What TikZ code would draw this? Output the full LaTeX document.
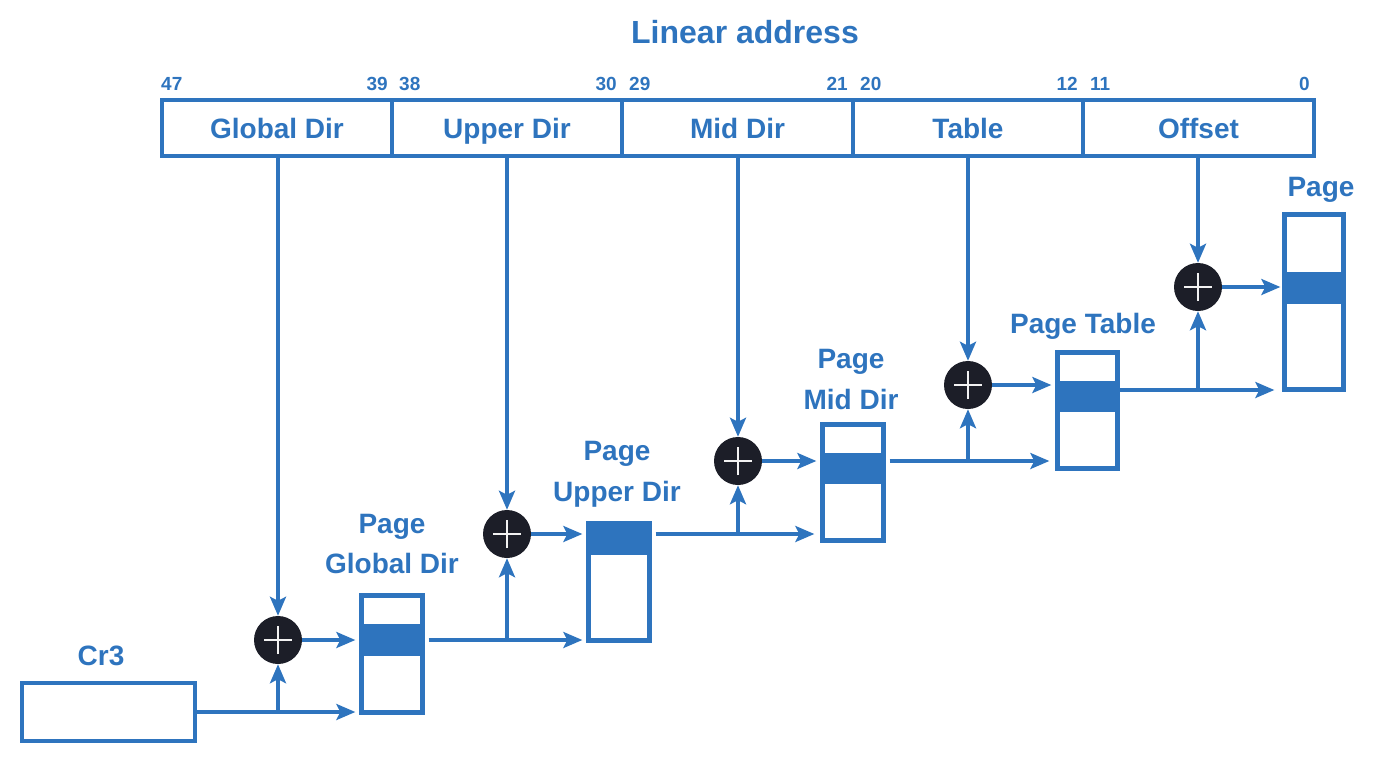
\documentclass[tikz,border=0pt]{standalone}
\usepackage{fontspec}
\setmainfont{Liberation Sans}
\usetikzlibrary{arrows.meta,calc}
\definecolor{ablue}{RGB}{46,116,190}
\definecolor{pdark}{RGB}{28,30,40}
\begin{document}
\begin{tikzpicture}[x=1pt,y=-1pt,
  conn/.style={draw=ablue, line width=3.5pt},
  arr/.style={conn, -{Stealth[length=19pt,width=16pt,inset=4pt]}},
  lbl/.style={text=ablue, font=\fontsize{28}{32}\selectfont\bfseries, inner sep=0pt},
  bitn/.style={text=ablue, font=\fontsize{19}{20}\selectfont\bfseries, inner sep=0pt},
  field/.style={draw=ablue, line width=3.3pt, minimum height=56pt, text=ablue,
    font=\fontsize{28}{32}\selectfont\bfseries, text height=20pt, text depth=0pt, inner sep=0pt},
  tbox/.style={draw=ablue, line width=3.3pt, fill=white, inner sep=0pt, minimum width=60pt},
  band/.style={fill=ablue, inner sep=0pt, minimum width=60pt},
  adder/.style={circle, fill=pdark, minimum size=48pt, inner sep=0pt,
    path picture={\draw[white!90!gray, line width=2.2pt]
      ([xshift=-14pt]path picture bounding box.center) -- ([xshift=14pt]path picture bounding box.center)
      ([yshift=-14pt]path picture bounding box.center) -- ([yshift=14pt]path picture bounding box.center);}}
]
\useasboundingbox (0,0) rectangle (1382,764);

% title
\node[text=ablue, font=\fontsize{32}{36}\selectfont\bfseries, anchor=base, inner sep=0pt] (title) at (745,43) {Linear address};

% linear address fields
\node[field, minimum width=230pt] (fg) at (277,128) {Global Dir};
\node[field, minimum width=230pt] (fu) at (507,128) {Upper Dir};
\node[field, minimum width=231pt] (fm) at (737.5,128) {Mid Dir};
\node[field, minimum width=230pt] (ft) at (968,128) {Table};
\node[field, minimum width=231pt] (fo) at (1198.5,128) {Offset};

% bit numbers
\node[bitn, anchor=base west] (b47) at (161,90) {47};
\node[bitn, anchor=base east] (b39) at (388,90) {39};
\node[bitn, anchor=base west] (b38) at (399,90) {38};
\node[bitn, anchor=base east] (b30) at (617,90) {30};
\node[bitn, anchor=base west] (b29) at (629,90) {29};
\node[bitn, anchor=base east] (b21) at (848,90) {21};
\node[bitn, anchor=base west] (b20) at (860,90) {20};
\node[bitn, anchor=base east] (b12) at (1078,90) {12};
\node[bitn, anchor=base west] (b11) at (1090,90) {11};
\node[bitn, anchor=base east] (b0) at (1310,90) {0};

% Cr3
\node[lbl, anchor=base] (cr3l) at (101,665) {Cr3};
\node[draw=ablue, line width=3.3pt, minimum width=173pt, minimum height=58pt, inner sep=0pt] (cr3) at (108.5,712) {};

% table boxes
\node[tbox, minimum height=116pt] (pgd) at (392,654) {};
\node[band, minimum height=32pt] (pgdb) at (392,640) {};
\node[tbox, minimum height=116pt] (pud) at (619,582) {};
\node[band, minimum height=31pt] (pudb) at (619,539.5) {};
\node[tbox, minimum height=115pt] (pmd) at (853,482.5) {};
\node[band, minimum height=31pt] (pmdb) at (853,468.5) {};
\node[tbox, minimum height=115pt, minimum width=59pt] (pt) at (1087.5,410.5) {};
\node[band, minimum height=31pt, minimum width=59pt] (ptb) at (1087.5,396.5) {};
\node[tbox, minimum height=174pt, minimum width=58pt] (pg) at (1314,302) {};
\node[band, minimum height=32pt, minimum width=58pt] (pgb) at (1314,288) {};
% redraw outlines over bands
\foreach \b in {pgd,pud,pmd,pt,pg}{\draw[ablue, line width=3.3pt] (\b.south west) rectangle (\b.north east);}

% box labels
\node[lbl, anchor=base] (l1a) at (392,533) {Page};
\node[lbl, anchor=base] (l1b) at (392,573) {Global Dir};
\node[lbl, anchor=base] (l2a) at (617,460) {Page};
\node[lbl, anchor=base] (l2b) at (617,501) {Upper Dir};
\node[lbl, anchor=base] (l3a) at (851,368) {Page};
\node[lbl, anchor=base] (l3b) at (851,409) {Mid Dir};
\node[lbl, anchor=base] (l4) at (1083,333) {Page Table};
\node[lbl, anchor=base] (l5) at (1321,196) {Page};

% adders
\node[adder] (p1) at (278,640) {};
\node[adder] (p2) at (507,534) {};
\node[adder] (p3) at (738,461) {};
\node[adder] (p4) at (968,385) {};
\node[adder] (p5) at (1198,287) {};

% from fields to adders
\draw[arr] (fg.south -| p1) -- (p1.north);
\draw[arr] (fu.south -| p2) -- (p2.north);
\draw[arr] (fm.south -| p3) -- (p3.north);
\draw[arr] (ft.south -| p4) -- (p4.north);
\draw[arr] (fo.south -| p5) -- (p5.north);

% adders to boxes
\draw[arr, shorten >=5pt] (p1.east) -- (pgd.west |- p1);
\draw[arr, shorten >=5pt] (p2.east) -- (pud.west |- p2);
\draw[arr, shorten >=5pt] (p3.east) -- (pmd.west |- p3);
\draw[arr, shorten >=5pt] (p4.east) -- (pt.west |- p4);
\draw[arr, shorten >=3pt] (p5.east) -- (pg.west |- p5);

% base lines
\coordinate (j1) at (p1 |- cr3.east);
\draw[arr, shorten >=5pt] (cr3.east) -- (pgd.west |- cr3.east);
\draw[arr] (j1) -- (p1.south);

\coordinate (j2) at (p2 |- p1);
\draw[arr, shorten >=5pt] ([xshift=5pt]pgd.east |- p1) -- (pud.west |- p1);
\draw[arr] (j2) -- (p2.south);

\coordinate (j3) at (p3 |- p2);
\draw[arr, shorten >=7pt] ([xshift=5pt]pud.east |- p2) -- (pmd.west |- p2);
\draw[arr] (j3) -- (p3.south);

\coordinate (j4) at (p4 |- p3);
\draw[arr, shorten >=7pt] ([xshift=5pt]pmd.east |- p3) -- (pt.west |- p3);
\draw[arr] (j4) -- (p4.south);

\coordinate (j5) at ($(p5 |- p4)+(0,5)$);
\coordinate (k5) at ($(pt.east |- p4)+(0,5)$);
\coordinate (m5) at ($(pg.west |- p4)+(0,5)$);
\draw[arr, shorten >=9pt] (k5) -- (m5);
\draw[arr] (j5) -- (p5.south);
\end{tikzpicture}
\end{document}
